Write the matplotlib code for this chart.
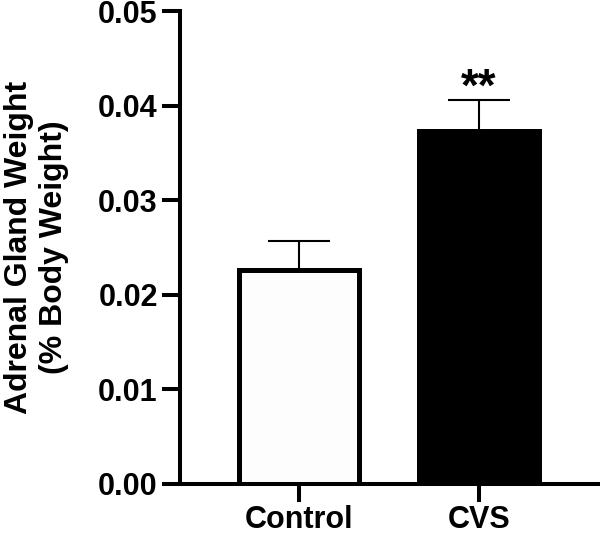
import matplotlib.pyplot as plt

groups = ["Control", "CVS"]
means = [0.0226, 0.03735]
sem = [0.0031, 0.0033]
fills = ["#fdfdfd", "#000000"]
y_ticks = [0.00, 0.01, 0.02, 0.03, 0.04, 0.05]

plt.rcParams['font.family'] = ['Liberation Sans', 'DejaVu Sans']
plt.rcParams['font.weight'] = 'bold'

fig = plt.figure(figsize=(6.0, 5.33), dpi=100)
ax = fig.add_axes([0.30, 0.092, 0.698, 0.887])

x = list(range(len(groups)))
ax.errorbar(x, means, yerr=[[0] * len(sem), sem], fmt='none', ecolor='black',
            elinewidth=1.5, capsize=22, capthick=1.5, zorder=1)
ax.bar(x, means, width=0.67, color=fills, edgecolor='black', linewidth=3.6, zorder=2)

# significance marker
ax.text(x[1], means[1] + sem[1] - 0.0001, "**", ha='center', va='baseline',
        fontsize=33, fontweight='bold')

ax.set_ylim(0, 0.05)
ax.set_xlim(-0.661, 1.667)
ax.set_yticks(y_ticks)
ax.set_yticklabels([f"{t:.2f}" for t in y_ticks])
ax.set_xticks(x)
ax.set_xticklabels(groups)
ax.tick_params(axis='both', width=2.9, length=13, labelsize=22)
ax.tick_params(axis='y', pad=3)
ax.tick_params(axis='x', pad=2)

for s in ['top', 'right']:
    ax.spines[s].set_visible(False)
for s in ['left', 'bottom']:
    ax.spines[s].set_linewidth(2.9)

ax.set_ylabel("Adrenal Gland Weight\n(% Body Weight)", fontsize=23,
              fontweight='bold', labelpad=21, linespacing=1.2)

fig.savefig("out.png", dpi=100)
